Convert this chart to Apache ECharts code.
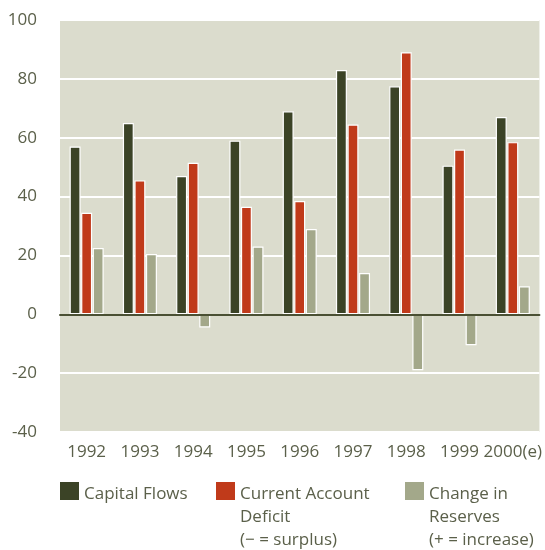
<!DOCTYPE html>
<html><head><meta charset="utf-8">
<script src="https://cdn.jsdelivr.net/npm/echarts@6/dist/echarts.min.js"></script>
<style>html,body{margin:0;padding:0;background:#fff}#c{width:545px;height:550px}</style>
</head><body><div id="c"></div>
<script>
const years = ['1992','1993','1994','1995','1996','1997','1998','1999','2000(e)'];
const capitalFlows = [57, 65, 47, 59, 69, 83, 77.5, 50.5, 67];
const currentAccount = [34.5, 45.5, 51.5, 36.5, 38.5, 64.5, 89, 56, 58.5];
const reserves = [22.5, 20.5, -4.5, 23, 29, 14, -19, -10.5, 9.5];
const seriesNames = ['Capital Flows', 'Current Account', 'Change in Reserves'];
const legendLabels = ['Capital Flows', 'Current Account\nDeficit\n(\u2212 = surplus)', 'Change in\nReserves\n(+ = increase)'];
const colors = ['#3b4326', '#c03a1a', '#a3a88a'];

const font = "'Open Sans', 'DejaVu Sans', sans-serif";
const txt = '#5b604a';
const chart = echarts.init(document.getElementById('c'), null, {renderer: 'canvas'});

function mkLegend(i, left, top, lines) {
  const h = lines > 1 ? 70 : 24;
  return {
    left: left, top: top, padding: 0, orient: 'horizontal',
    itemWidth: 19, itemHeight: h, selectedMode: false,
    itemStyle: {borderWidth: 0},
    data: [{name: seriesNames[i],
      icon: 'path://M0,0L19,0L19,18L0,18Z M0,' + h + 'L19,' + h}],
    formatter: () => legendLabels[i],
    textStyle: {fontFamily: font, fontSize: 17, color: txt, lineHeight: 23}
  };
}

const bar = (i, data) => ({
  name: seriesNames[i], type: 'bar', data: data,
  barWidth: 11, barGap: '5%',
  itemStyle: {color: colors[i], borderColor: '#ffffff', borderWidth: 1.2},
  emphasis: {disabled: true}
});

chart.setOption({
  animation: false,
  color: colors,
  grid: {left: 60, right: 5, top: 20, bottom: 118, show: true, backgroundColor: '#dbdccd', borderWidth: 0},
  legend: [mkLegend(0, 60, 482, 1), mkLegend(1, 216, 482, 3), mkLegend(2, 405, 482, 3)],
  xAxis: {
    type: 'category', data: years,
    axisTick: {show: false},
    axisLine: {show: true, onZero: true, lineStyle: {color: '#4a5033', width: 2}},
    axisLabel: {fontFamily: font, fontSize: 17, color: txt, margin: 12, interval: 0},
    z: 5
  },
  yAxis: {
    type: 'value', min: -40, max: 100, interval: 20,
    axisLine: {show: false}, axisTick: {show: false},
    axisLabel: {fontFamily: font, fontSize: 17, color: txt, margin: 23},
    splitLine: {show: true, lineStyle: {color: '#ffffff', width: 2}}
  },
  series: [bar(0, capitalFlows), bar(1, currentAccount), bar(2, reserves)]
});
</script></body></html>
